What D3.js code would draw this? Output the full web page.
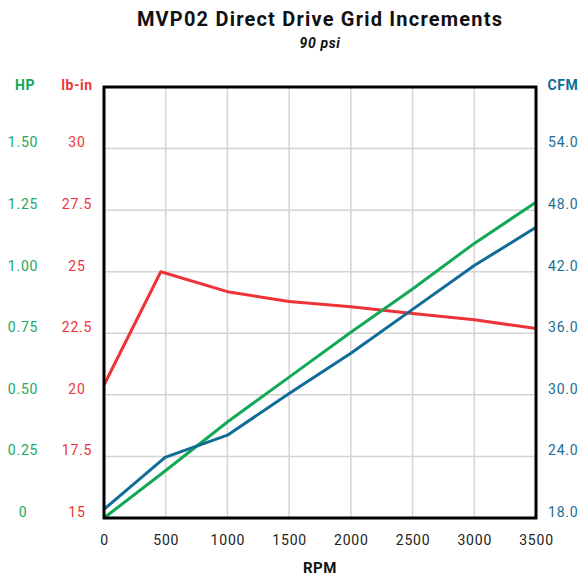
<!DOCTYPE html>
<html>
<head>
<meta charset="utf-8">
<script src="https://cdn.jsdelivr.net/npm/d3@7"></script>
<style>
  body { margin: 0; background: #fff; }
  text { font-family: Roboto, "DejaVu Sans", sans-serif; }
</style>
</head>
<body>
<div id="chart"></div>
<script>
// data
const rpmTicks = [0, 500, 1000, 1500, 2000, 2500, 3000, 3500];
const hpTicks = [0, 0.25, 0.5, 0.75, 1.0, 1.25, 1.5];
const torqueTicks = [15, 17.5, 20, 22.5, 25, 27.5, 30];
const cfmTicks = [18, 24, 30, 36, 42, 48, 54];

const hpRpm = [0, 500, 1000, 1500, 2000, 2500, 3000, 3500];
const hpValues = [0, 0.193, 0.39, 0.572, 0.754, 0.93, 1.115, 1.282];

const torqueRpm = [0, 460, 1000, 1500, 2000, 2500, 3000, 3500];
const torqueValues = [20.4, 25.0, 24.19, 23.79, 23.58, 23.3, 23.05, 22.69];

const cfmRpm = [0, 495, 1000, 1500, 2000, 2500, 3000, 3500];
const cfmValues = [18.85, 23.9, 26.07, 30.13, 34.05, 38.33, 42.6, 46.33];

const W = 585, H = 576;
const margin = { top: 87, right: 49, bottom: 58, left: 104 };
const width = W - margin.left - margin.right;
const height = H - margin.top - margin.bottom;

const green = '#12a857', red = '#ee3338', blue = '#0f6c97';

const svg = d3.select('#chart').append('svg')
  .attr('width', W).attr('height', H);

const g = svg.append('g')
  .attr('transform', 'translate(' + margin.left + ',' + margin.top + ')');

// scales
const x = d3.scaleLinear().domain([0, 3500]).range([0, width]);
const yHp = d3.scaleLinear().domain([0, 1.75]).range([height, 0]);
const yTq = d3.scaleLinear().domain([15, 32.5]).range([height, 0]);
const yCfm = d3.scaleLinear().domain([18, 60]).range([height, 0]);

// grid
g.append('g')
  .selectAll('line.v')
  .data(rpmTicks.slice(1, -1))
  .enter().append('line')
  .attr('x1', d => x(d)).attr('x2', d => x(d))
  .attr('y1', 0).attr('y2', height)
  .attr('stroke', '#d4d4d4').attr('stroke-width', 1.5);

g.append('g')
  .selectAll('line.h')
  .data(torqueTicks.slice(1))
  .enter().append('line')
  .attr('x1', 0).attr('x2', width)
  .attr('y1', d => yTq(d)).attr('y2', d => yTq(d))
  .attr('stroke', '#d4d4d4').attr('stroke-width', 1.5);

// lines
const drawLine = (xs, ys, yScale, color) => {
  const pts = xs.map((v, i) => [v, ys[i]]);
  g.append('path')
    .datum(pts)
    .attr('fill', 'none')
    .attr('stroke', color)
    .attr('stroke-width', 3)
    .attr('stroke-linejoin', 'round')
    .attr('d', d3.line().x(d => x(d[0])).y(d => yScale(d[1])));
};
drawLine(torqueRpm, torqueValues, yTq, red);
drawLine(hpRpm, hpValues, yHp, green);
drawLine(cfmRpm, cfmValues, yCfm, blue);

// frame
g.append('rect')
  .attr('width', width).attr('height', height)
  .attr('fill', 'none').attr('stroke', '#000').attr('stroke-width', 3);

// axes (text only, no domain/ticks)
const axisText = (sel, color, anchor, dx) => {
  sel.select('.domain').remove();
  sel.selectAll('.tick line').remove();
  sel.selectAll('.tick text')
    .attr('fill', color)
    .attr('font-size', 14)
    .attr('letter-spacing', 0.8)
    .attr('text-anchor', anchor)
    .attr('x', dx)
    .attr('dy', '-0.12em');
};

g.append('g')
  .attr('transform', 'translate(0,' + height + ')')
  .call(d3.axisBottom(x).tickValues(rpmTicks).tickFormat(d3.format('d')))
  .call(s => {
    s.select('.domain').remove();
    s.selectAll('.tick line').remove();
    s.selectAll('.tick text').attr('fill', '#222').attr('font-size', 14)
      .attr('letter-spacing', 0.8)
      .attr('y', 17).attr('dy', '0.71em');
  });

g.append('g')
  .call(d3.axisLeft(yHp).tickValues(hpTicks).tickFormat(d => d === 0 ? '0' : d3.format('.2f')(d)))
  .call(s => axisText(s, '#22a863', 'middle', -81));

g.append('g')
  .call(d3.axisLeft(yTq).tickValues(torqueTicks).tickFormat(d => String(d)))
  .call(s => axisText(s, red, 'middle', -27));

g.append('g')
  .attr('transform', 'translate(' + width + ',0)')
  .call(d3.axisRight(yCfm).tickValues(cfmTicks).tickFormat(d3.format('.1f')))
  .call(s => axisText(s, '#1b6e96', 'start', 12));

// axis titles
const title = (txt, xx, yy, color, size, extra) => {
  const t = svg.append('text')
    .attr('x', xx).attr('y', yy)
    .attr('text-anchor', 'middle')
    .attr('fill', color)
    .attr('font-size', size)
    .attr('font-weight', 'bold')
    .attr('letter-spacing', 0.6)
    .text(txt);
  if (extra) extra(t);
  return t;
};
title('HP', 25, 90, '#12a857', 14);
title('lb-in', 77, 90, red, 14);
title('CFM', 563, 90, '#0f6c97', 14);
title('RPM', margin.left + width / 2, 573, '#111', 15);
title('MVP02 Direct Drive Grid Increments', margin.left + width / 2, 26, '#111', 20,
  t => t.attr('letter-spacing', 1.2));
title('90 psi', margin.left + width / 2, 48, '#111', 14,
  t => t.attr('font-style', 'italic'));
</script>
</body>
</html>
